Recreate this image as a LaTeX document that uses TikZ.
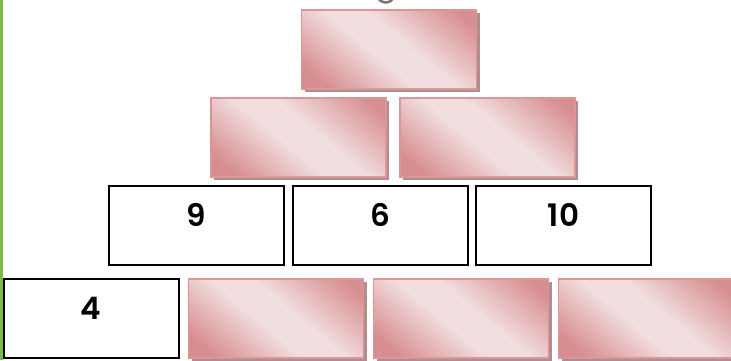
\documentclass[tikz,border=0pt]{standalone}
\usepackage{fontspec}
\setmainfont{Poppins}[UprightFont={* SemiBold}]
\usetikzlibrary{positioning,shadows}
\definecolor{pkdark}{RGB}{215,142,144}
\definecolor{pklight}{RGB}{242,222,223}
\definecolor{pkline}{RGB}{219,150,152}
\definecolor{pkshade}{RGB}{178,140,142}
\definecolor{sidegreen}{RGB}{124,186,74}
\definecolor{ringgray}{RGB}{120,120,100}
\pgfdeclarehorizontalshading{pinksheen}{100bp}{color(0bp)=(pkdark); color(22bp)=(pkdark); color(45bp)=(pklight); color(56bp)=(pklight); color(80bp)=(pkdark); color(100bp)=(pkdark)}
\begin{document}
\begin{tikzpicture}[x=1pt, y=1pt, node distance=185pt,
  blank/.style={draw=pkline, line width=1.6pt, shading=pinksheen, shading angle=50,
    minimum width=175pt, minimum height=79pt,
    drop shadow={shadow xshift=3pt, shadow yshift=-3pt, opacity=1, fill=pkshade}},
  given/.style={draw, line width=2pt, fill=white, minimum width=175pt, minimum height=79pt,
    font=\fontsize{31}{36}\selectfont, text height=22pt, text depth=21pt}]
\useasboundingbox (0,0) rectangle (731,360);
\fill[sidegreen] (0,0) rectangle (3,360);
\draw[ringgray, line width=2.5pt] (378,362) arc (210:330:9);
% top
\node[blank] (top) at (389,310.5) {};
% second row
\node[blank] (b1) at (298.5,222.5) {};
\node[blank, right of=b1, node distance=189pt] (b2) {};
% third row
\node[given] (c1) at (196.5,134.5) {9};
\node[given, right of=c1, node distance=183.5pt] (c2) {6};
\node[given, right of=c2, node distance=183.5pt] (c3) {10};
% bottom row
\node[given] (d1) at (91,41.5) {4};
\node[blank, right of=d1] (d2) {};
\node[blank, right of=d2] (d3) {};
\node[blank, right of=d3] (d4) {};
\end{tikzpicture}
\end{document}
